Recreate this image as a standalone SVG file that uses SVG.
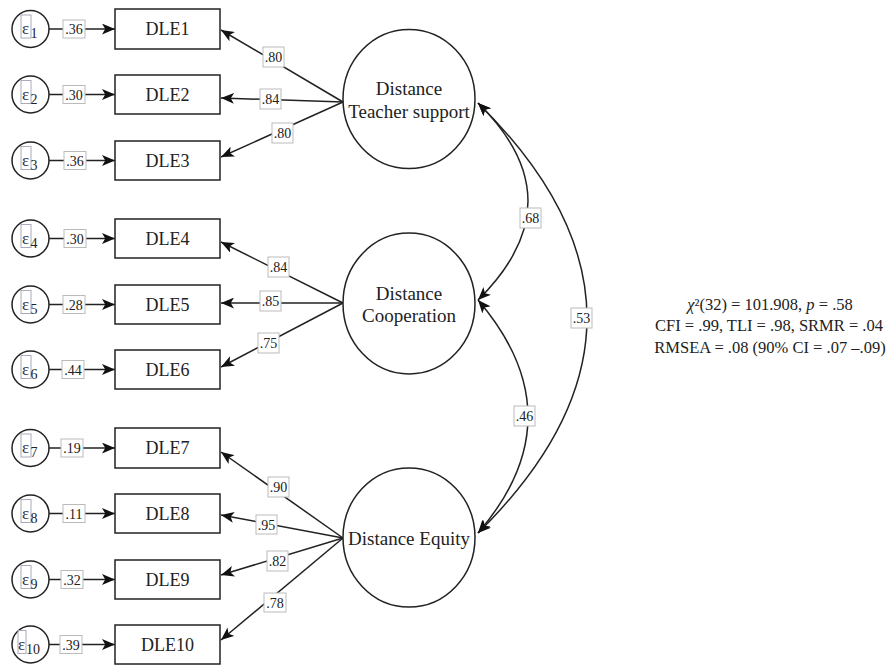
<svg xmlns="http://www.w3.org/2000/svg" width="891" height="666" viewBox="0 0 891 666">
<style>
.bx{fill:#fff;stroke:#222;stroke-width:1.5}
.lat{fill:#fff;stroke:#222;stroke-width:1.5}
.err{fill:#fff;stroke:#222;stroke-width:1.5}
.ln{fill:none;stroke:#222;stroke-width:1.5}
.lb{fill:#fff;stroke:#bbb;stroke-width:1}
.eb{fill:none;stroke:#aab;stroke-width:1}
.t{font-family:"Liberation Serif","Times New Roman",serif;fill:#222}
.dle{font-size:18px;text-anchor:middle}
.latt{font-size:19px;text-anchor:middle}
.num{font-size:14px;text-anchor:middle}
.eps{font-size:17px;fill:#334}
.sub{font-size:14px}
.fit{font-size:16.5px;text-anchor:middle}
</style>
<defs>
<marker id="ah" viewBox="0 0 12 10" refX="12" refY="5" markerWidth="13" markerHeight="11" markerUnits="userSpaceOnUse" orient="auto-start-reverse">
<path d="M0,0 L12,5 L0,10 L3,5 Z" fill="#111"/>
</marker>
</defs>

<g id="connectors">
<line class="ln" x1="49" y1="29" x2="115" y2="29" marker-end="url(#ah)"/>
<line class="ln" x1="49" y1="94.5" x2="115" y2="94.5" marker-end="url(#ah)"/>
<line class="ln" x1="49" y1="160.5" x2="115" y2="160.5" marker-end="url(#ah)"/>
<line class="ln" x1="49" y1="238.5" x2="115" y2="238.5" marker-end="url(#ah)"/>
<line class="ln" x1="49" y1="304.5" x2="115" y2="304.5" marker-end="url(#ah)"/>
<line class="ln" x1="49" y1="369.5" x2="115" y2="369.5" marker-end="url(#ah)"/>
<line class="ln" x1="49" y1="448" x2="115" y2="448" marker-end="url(#ah)"/>
<line class="ln" x1="49" y1="513.5" x2="115" y2="513.5" marker-end="url(#ah)"/>
<line class="ln" x1="49" y1="579.5" x2="115" y2="579.5" marker-end="url(#ah)"/>
<line class="ln" x1="49" y1="644.5" x2="115" y2="644.5" marker-end="url(#ah)"/>
<line class="ln" x1="343" y1="102" x2="221" y2="30" marker-end="url(#ah)"/>
<line class="ln" x1="343" y1="102" x2="221" y2="98" marker-end="url(#ah)"/>
<line class="ln" x1="343" y1="102" x2="221" y2="157" marker-end="url(#ah)"/>
<line class="ln" x1="343" y1="303" x2="221" y2="242" marker-end="url(#ah)"/>
<line class="ln" x1="343" y1="303" x2="221" y2="303" marker-end="url(#ah)"/>
<line class="ln" x1="343" y1="303" x2="221" y2="367" marker-end="url(#ah)"/>
<line class="ln" x1="343" y1="538" x2="221" y2="452" marker-end="url(#ah)"/>
<line class="ln" x1="343" y1="538" x2="221" y2="515" marker-end="url(#ah)"/>
<line class="ln" x1="343" y1="538" x2="221" y2="575" marker-end="url(#ah)"/>
<line class="ln" x1="343" y1="538" x2="221" y2="640" marker-end="url(#ah)"/>
<path class="ln" d="M478,103 Q578,201 478,300" marker-start="url(#ah)" marker-end="url(#ah)"/>
<path class="ln" d="M478,300 Q578,417 478,533" marker-start="url(#ah)" marker-end="url(#ah)"/>
<path class="ln" d="M478,103 Q696,318 478,533" marker-start="url(#ah)" marker-end="url(#ah)"/>
</g>

<g id="connector-labels">
<rect class="lb" x="63" y="20" width="22" height="18"/><text class="t num" x="74" y="34">.36</text>
<rect class="lb" x="63" y="85.5" width="22" height="18"/><text class="t num" x="74" y="99.5">.30</text>
<rect class="lb" x="64" y="151.5" width="22" height="18"/><text class="t num" x="75" y="165.5">.36</text>
<rect class="lb" x="64" y="229.5" width="22" height="18"/><text class="t num" x="75" y="243.5">.30</text>
<rect class="lb" x="63" y="295.5" width="22" height="18"/><text class="t num" x="74" y="309.5">.28</text>
<rect class="lb" x="62" y="360.5" width="22" height="18"/><text class="t num" x="73" y="374.5">.44</text>
<rect class="lb" x="61" y="439" width="22" height="18"/><text class="t num" x="72" y="453">.19</text>
<rect class="lb" x="63" y="504.5" width="22" height="18"/><text class="t num" x="74" y="518.5">.11</text>
<rect class="lb" x="61" y="570.5" width="22" height="18"/><text class="t num" x="72" y="584.5">.32</text>
<rect class="lb" x="60" y="635.5" width="22" height="18"/><text class="t num" x="71" y="649.5">.39</text>

<rect class="lb" x="263" y="47" width="21" height="20"/><text class="t num" x="273.5" y="62">.80</text>
<rect class="lb" x="260" y="89" width="21" height="20"/><text class="t num" x="270.5" y="104">.84</text>
<rect class="lb" x="272" y="123" width="21" height="20"/><text class="t num" x="282.5" y="138">.80</text>
<rect class="lb" x="268" y="257" width="21" height="20"/><text class="t num" x="278.5" y="272">.84</text>
<rect class="lb" x="260" y="291" width="21" height="20"/><text class="t num" x="270.5" y="306">.85</text>
<rect class="lb" x="258" y="333" width="21" height="20"/><text class="t num" x="268.5" y="348">.75</text>
<rect class="lb" x="268" y="477" width="21" height="20"/><text class="t num" x="278.5" y="492">.90</text>
<rect class="lb" x="256" y="515" width="21" height="19"/><text class="t num" x="266.5" y="529.5">.95</text>
<rect class="lb" x="267" y="551" width="21" height="20"/><text class="t num" x="277.5" y="566">.82</text>
<rect class="lb" x="264" y="593" width="22" height="19"/><text class="t num" x="275" y="607.5">.78</text>

<rect class="lb" x="520" y="208" width="21" height="20"/><text class="t num" x="530.5" y="223">.68</text>
<rect class="lb" x="514" y="406" width="21" height="20"/><text class="t num" x="524.5" y="421">.46</text>
<rect class="lb" x="571" y="308" width="21" height="20"/><text class="t num" x="581.5" y="323">.53</text>
</g>

<g id="e1"><circle class="err" cx="30.5" cy="29" r="18.5"/><rect class="eb" x="21" y="15" width="10" height="23"/><text class="t eps" x="22" y="34">ε</text><text class="t sub" x="30.5" y="38">1</text></g>
<g id="e2"><circle class="err" cx="30.5" cy="94.5" r="18.5"/><rect class="eb" x="21" y="80.5" width="10" height="23"/><text class="t eps" x="22" y="99.5">ε</text><text class="t sub" x="30.5" y="103.5">2</text></g>
<g id="e3"><circle class="err" cx="30.5" cy="160.5" r="18.5"/><rect class="eb" x="21" y="146.5" width="10" height="23"/><text class="t eps" x="22" y="165.5">ε</text><text class="t sub" x="30.5" y="169.5">3</text></g>
<g id="e4"><circle class="err" cx="30.5" cy="238.5" r="18.5"/><rect class="eb" x="21" y="224.5" width="10" height="23"/><text class="t eps" x="22" y="243.5">ε</text><text class="t sub" x="30.5" y="247.5">4</text></g>
<g id="e5"><circle class="err" cx="30.5" cy="304.5" r="18.5"/><rect class="eb" x="21" y="290.5" width="10" height="23"/><text class="t eps" x="22" y="309.5">ε</text><text class="t sub" x="30.5" y="313.5">5</text></g>
<g id="e6"><circle class="err" cx="30.5" cy="369.5" r="18.5"/><rect class="eb" x="21" y="355.5" width="10" height="23"/><text class="t eps" x="22" y="374.5">ε</text><text class="t sub" x="30.5" y="378.5">6</text></g>
<g id="e7"><circle class="err" cx="30.5" cy="448" r="18.5"/><rect class="eb" x="21" y="434" width="10" height="23"/><text class="t eps" x="22" y="453">ε</text><text class="t sub" x="30.5" y="457">7</text></g>
<g id="e8"><circle class="err" cx="30.5" cy="513.5" r="18.5"/><rect class="eb" x="21" y="499.5" width="10" height="23"/><text class="t eps" x="22" y="518.5">ε</text><text class="t sub" x="30.5" y="522.5">8</text></g>
<g id="e9"><circle class="err" cx="30.5" cy="579.5" r="18.5"/><rect class="eb" x="21" y="565.5" width="10" height="23"/><text class="t eps" x="22" y="584.5">ε</text><text class="t sub" x="30.5" y="588.5">9</text></g>
<g id="e10"><circle class="err" cx="30.5" cy="644.5" r="18.5"/><rect class="eb" x="18" y="630.5" width="8" height="23"/><text class="t eps" x="18" y="649.5">ε</text><text class="t sub" x="26" y="653.5">10</text></g>

<g id="DLE1"><rect class="bx" x="115" y="9" width="105" height="40"/><text class="t dle" x="167.5" y="35">DLE1</text></g>
<g id="DLE2"><rect class="bx" x="115" y="75" width="105" height="39"/><text class="t dle" x="167.5" y="100.5">DLE2</text></g>
<g id="DLE3"><rect class="bx" x="115" y="141" width="105" height="39"/><text class="t dle" x="167.5" y="166.5">DLE3</text></g>
<g id="DLE4"><rect class="bx" x="115" y="219" width="105" height="39"/><text class="t dle" x="167.5" y="244.5">DLE4</text></g>
<g id="DLE5"><rect class="bx" x="115" y="285" width="105" height="39"/><text class="t dle" x="167.5" y="310.5">DLE5</text></g>
<g id="DLE6"><rect class="bx" x="115" y="350" width="105" height="39"/><text class="t dle" x="167.5" y="375.5">DLE6</text></g>
<g id="DLE7"><rect class="bx" x="115" y="428" width="105" height="40"/><text class="t dle" x="167.5" y="454">DLE7</text></g>
<g id="DLE8"><rect class="bx" x="115" y="494" width="105" height="39"/><text class="t dle" x="167.5" y="519.5">DLE8</text></g>
<g id="DLE9"><rect class="bx" x="115" y="560" width="105" height="39"/><text class="t dle" x="167.5" y="585.5">DLE9</text></g>
<g id="DLE10"><rect class="bx" x="115" y="625" width="105" height="39"/><text class="t dle" x="167.5" y="650.5">DLE10</text></g>

<g id="teacher"><ellipse class="lat" cx="409" cy="99" rx="66" ry="69.5"/><text class="t latt" x="409" y="95">Distance</text><text class="t latt" x="409" y="118">Teacher support</text></g>
<g id="cooperation"><ellipse class="lat" cx="409" cy="303.5" rx="66" ry="70.5"/><text class="t latt" x="409" y="300">Distance</text><text class="t latt" x="409" y="322">Cooperation</text></g>
<g id="equity"><ellipse class="lat" cx="409" cy="537.5" rx="66" ry="69.5"/><text class="t latt" x="409" y="545">Distance Equity</text></g>

<g id="fit">
<text class="t fit" x="770" y="310"><tspan font-style="italic">χ</tspan>²(32) = 101.908, <tspan font-style="italic">p</tspan> = .58</text>
<text class="t fit" x="769" y="331">CFI = .99, TLI = .98, SRMR = .04</text>
<text class="t fit" x="770" y="353">RMSEA = .08 (90% CI = .07 –.09)</text>
</g>
</svg>
